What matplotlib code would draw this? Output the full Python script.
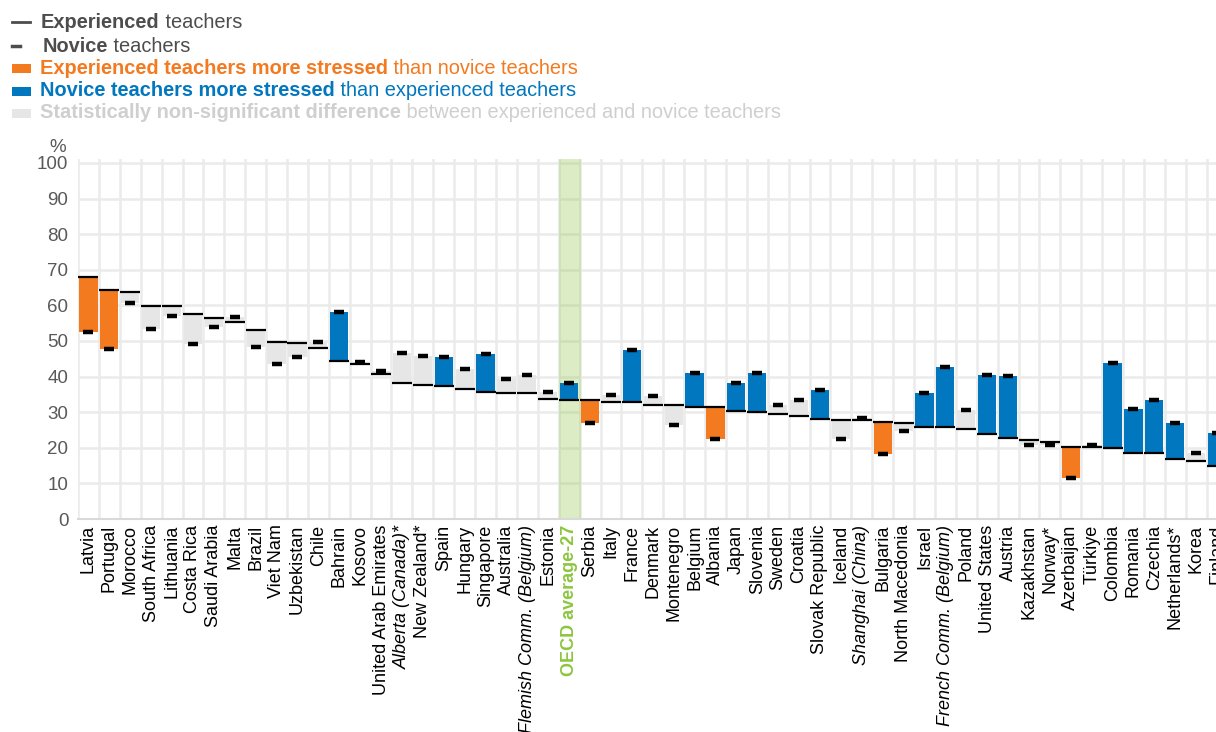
import matplotlib
matplotlib.use("Agg")
import matplotlib.pyplot as plt
import numpy as np

plt.rcParams['font.family'] = ['Liberation Sans', 'DejaVu Sans']

# Countries in chart order
countries = ["Latvia", "Portugal", "Morocco", "South Africa", "Lithuania", "Costa Rica",
             "Saudi Arabia", "Malta", "Brazil", "Viet Nam", "Uzbekistan", "Chile", "Bahrain",
             "Kosovo", "United Arab Emirates", "Alberta (Canada)*", "New Zealand*", "Spain",
             "Hungary", "Singapore", "Australia", "Flemish Comm. (Belgium)", "Estonia",
             "OECD average-27", "Serbia", "Italy", "France", "Denmark", "Montenegro", "Belgium",
             "Albania", "Japan", "Slovenia", "Sweden", "Croatia", "Slovak Republic", "Iceland",
             "Shanghai (China)", "Bulgaria", "North Macedonia", "Israel",
             "French Comm. (Belgium)", "Poland", "United States", "Austria", "Kazakhstan",
             "Norway*", "Azerbaijan", "Türkiye", "Colombia", "Romania", "Czechia",
             "Netherlands*", "Korea", "Finland"]

# % of teachers experiencing a lot of stress
experienced = [68.1, 64.3, 63.8, 59.9, 59.7, 57.5, 56.5, 55.3, 53.0, 49.8, 49.4, 47.9, 44.3,
               43.5, 40.6, 38.3, 37.5, 37.3, 36.5, 35.8, 35.4, 35.4, 33.6, 33.4, 33.4, 32.9,
               32.9, 32.1, 32.0, 31.5, 31.5, 30.4, 30.1, 29.5, 28.9, 28.0, 27.7, 27.7, 27.2,
               27.0, 25.7, 25.7, 25.3, 24.0, 22.7, 22.3, 21.7, 20.3, 20.1, 19.9, 18.6, 18.4,
               16.9, 16.4, 14.8]
novice = [52.4, 47.7, 60.6, 53.5, 57.0, 49.1, 54.0, 56.7, 48.2, 43.6, 45.6, 49.6, 58.2,
          44.0, 41.6, 46.7, 45.8, 45.5, 42.0, 46.3, 39.2, 40.4, 35.6, 38.3, 26.9, 34.8,
          47.4, 34.6, 26.3, 41.1, 22.6, 38.3, 40.9, 32.1, 33.3, 36.2, 22.4, 28.5, 18.3,
          24.7, 35.5, 42.6, 30.6, 40.4, 40.3, 20.7, 20.9, 11.6, 20.9, 43.7, 31.0, 33.5,
          27.1, 18.5, 24.2]
# significance: "exp" = experienced more stressed, "nov" = novice more stressed, "ns" = not significant
signif = ["exp", "exp", "ns", "ns", "ns", "ns", "ns", "ns", "ns", "ns", "ns", "ns", "nov",
          "ns", "ns", "ns", "ns", "nov", "ns", "nov", "ns", "ns", "ns", "nov", "exp", "ns",
          "nov", "ns", "ns", "nov", "exp", "nov", "nov", "ns", "ns", "nov", "ns", "ns", "exp",
          "ns", "nov", "nov", "ns", "nov", "nov", "ns", "ns", "exp", "ns", "nov", "nov", "nov",
          "nov", "ns", "nov"]
italic_labels = ["Alberta (Canada)*", "Flemish Comm. (Belgium)", "Shanghai (China)",
                 "French Comm. (Belgium)"]

ORANGE = "#F47A20"
BLUE = "#0077BE"
LIGHT = "#E6E6E6"
GREEN = "#8CC63F"
color_map = {"exp": ORANGE, "nov": BLUE, "ns": LIGHT}

W, H = 1216, 732
fig = plt.figure(figsize=(W / 100, H / 100), dpi=100)

# axes extends a little past the right edge, like the original crop
left_px, right_px, top_px, bottom_px = 78, 1227.5, 159.4, 519
ax = fig.add_axes([left_px / W, (H - bottom_px) / H,
                   (right_px - left_px) / W, (bottom_px - top_px) / H])

x = np.arange(len(countries))
exp_arr = np.array(experienced)
nov_arr = np.array(novice)
lo = np.minimum(exp_arr, nov_arr)
hi = np.maximum(exp_arr, nov_arr)
colors = [color_map[s] for s in signif]

ax.bar(x, hi - lo, bottom=lo, width=0.875, color=colors, zorder=3)
ax.hlines(exp_arr, x - 0.48, x + 0.48, color="black", linewidth=1.6, zorder=4)
ax.hlines(nov_arr, x - 0.24, x + 0.24, color="black", linewidth=3.2, zorder=5)

# OECD average highlight
oecd = countries.index("OECD average-27")
ax.axvspan(oecd - 0.5, oecd + 0.5, facecolor=GREEN, alpha=0.3, edgecolor="#b5d68f",
           linewidth=1.0, zorder=2)

ax.set_xlim(-0.5, len(countries) - 0.5)
ax.set_ylim(0, 101)
ax.set_yticks(np.arange(0, 101, 10))
ax.set_xticks(x)
ax.set_xticklabels(countries, rotation=90, fontsize=13)
for lab in ax.get_xticklabels():
    t = lab.get_text()
    if t in italic_labels:
        lab.set_style("italic")
    if t == "OECD average-27":
        lab.set_color(GREEN)
        lab.set_fontweight("bold")

ax.set_xticks(np.arange(-0.5, len(countries), 1), minor=True)
ax.grid(axis="y", which="major", color="#EBEBEB", linewidth=1.8, zorder=0)
ax.grid(axis="x", which="minor", color="#EBEBEB", linewidth=1.8, zorder=0)
ax.tick_params(axis="both", which="both", length=0)
ax.tick_params(axis="y", labelsize=13.5, labelcolor="#595959", pad=7)
ax.tick_params(axis="x", pad=4)
for s in ["top", "right", "left"]:
    ax.spines[s].set_visible(False)
ax.spines["bottom"].set_color("#D9D9D9")
ax.spines["bottom"].set_linewidth(1.5)
ax.set_axisbelow(True)

fig.text(58 / W, 1 - 148 / H, "%", fontsize=13.5, color="#595959", ha="center", va="center")

# Legend (manually built, mixed bold / regular text)
legend_rows = [
    ("Experienced", " teachers", "#4D4D4D", "long", 22),
    ("Novice", " teachers", "#4D4D4D", "short", 46),
    ("Experienced teachers more stressed", " than novice teachers", ORANGE, "rect", 68),
    ("Novice teachers more stressed", " than experienced teachers", BLUE, "rect", 91),
    ("Statistically non-significant difference",
     " between experienced and novice teachers", "#CFCFCF", "rect", 113),
]
LEG_FS = 14.4
for bold, rest, col, kind, ypx in legend_rows:
    yf = 1 - ypx / H
    if kind == "long":
        fig.add_artist(plt.Line2D([12 / W, 30 / W], [yf, yf], color="#4D4D4D", linewidth=2))
        tx = 41
    elif kind == "short":
        fig.add_artist(plt.Line2D([12 / W, 20 / W], [yf, yf], color="#4D4D4D", linewidth=2.5))
        tx = 43
    else:
        rc = LIGHT if col == "#CFCFCF" else col
        fig.add_artist(plt.Rectangle((12 / W, yf - 4.5 / H), 19 / W, 9 / H,
                                     facecolor=rc, edgecolor="none"))
        tx = 40
    t1 = fig.text(tx / W, yf, bold, fontsize=LEG_FS, fontweight="bold", color=col,
                  ha="left", va="center")
    ax.annotate(rest, xy=(1, 0), xycoords=t1, va="bottom", ha="left",
                fontsize=LEG_FS, color=col, annotation_clip=False)

fig.savefig("out.png", dpi=100)
